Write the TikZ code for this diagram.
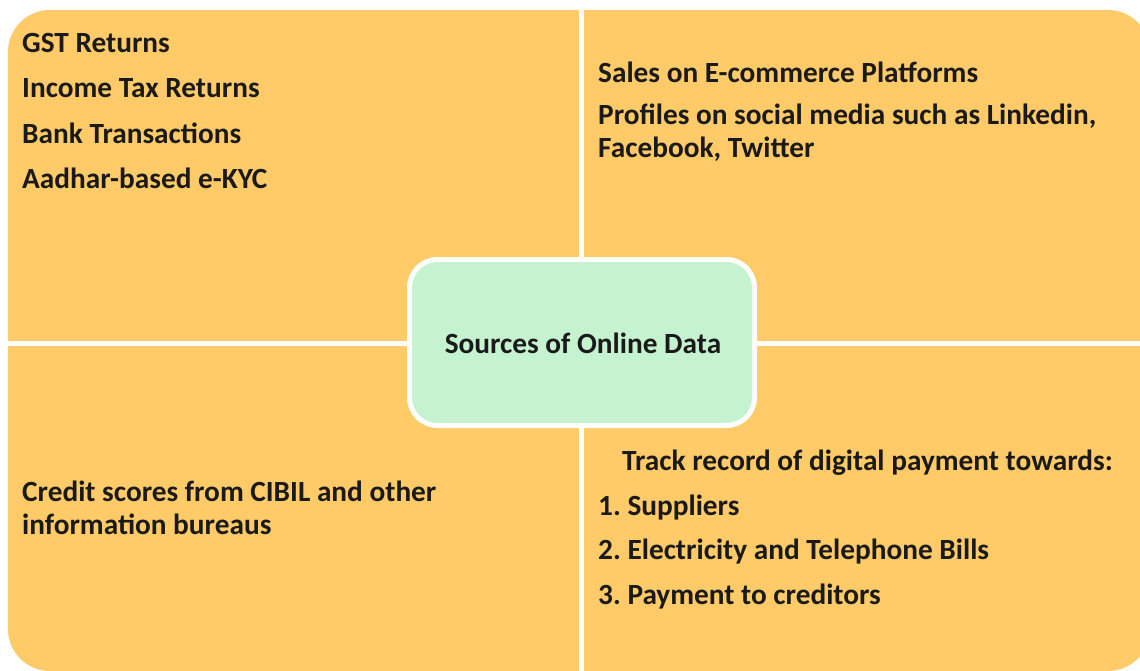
\documentclass[tikz,border=0pt]{standalone}
\usepackage{fontspec}
\setmainfont{Carlito}
\frenchspacing
\definecolor{quadfill}{HTML}{FFCA68}
\definecolor{hubfill}{HTML}{C5F2CF}
\definecolor{inktext}{HTML}{1A1A1A}
\begin{document}
\begin{tikzpicture}[x=1pt,y=-1pt]
   \tikzset{item/.style = {anchor=west,inner sep=0pt,text=inktext,font=\fontsize{29.3}{33}\selectfont\bfseries},
            quad/.style = {fill=quadfill},
            hub/.style = {fill=hubfill,draw=white,line width=5pt,rounded corners=28pt}}
   \useasboundingbox (0,0) rectangle (1140,670);

   % four panels, clipped to the outer rounded frame
   \begin{scope}
     \clip[rounded corners=42pt] (8,10) rectangle (1150,671);
     \fill[quad] (8,10) rectangle (579,340.5);
     \fill[quad] (584,10) rectangle (1150,340.5);
     \fill[quad] (8,345.5) rectangle (579,671);
     \fill[quad] (584,345.5) rectangle (1150,671);
   \end{scope}

   \draw[hub] (409.5,259.5) rectangle (754.5,425.5);
   \node[item,anchor=center] (hub) at (583,343) {Sources of Online Data};

   \node[item] (gst) at (22,43) {GST Returns};
   \node[item] (itr) at (22,88) {Income Tax Returns};
   \node[item] (bank) at (22,133) {Bank Transactions};
   \node[item] (kyc) at (22,178) {Aadhar-based e-KYC};

   \node[item] (ecom) at (598,72) {Sales on E-commerce Platforms};
   \node[item,align=left] (social) at (598,132.5) {Profiles on social media such as Linkedin,\\Facebook, Twitter};

   \node[item,align=left] (cibil) at (22,507.5) {Credit scores from CIBIL and other\\information bureaus};

   \node[item] (track) at (622,463) {Track record of digital payment towards:};
   \node[item] (supp) at (598,508) {1. Suppliers};
   \node[item] (bills) at (598,552) {2. Electricity and Telephone Bills};
   \node[item] (cred) at (598,597) {3. Payment to creditors};
  \end{tikzpicture}
\end{document}
